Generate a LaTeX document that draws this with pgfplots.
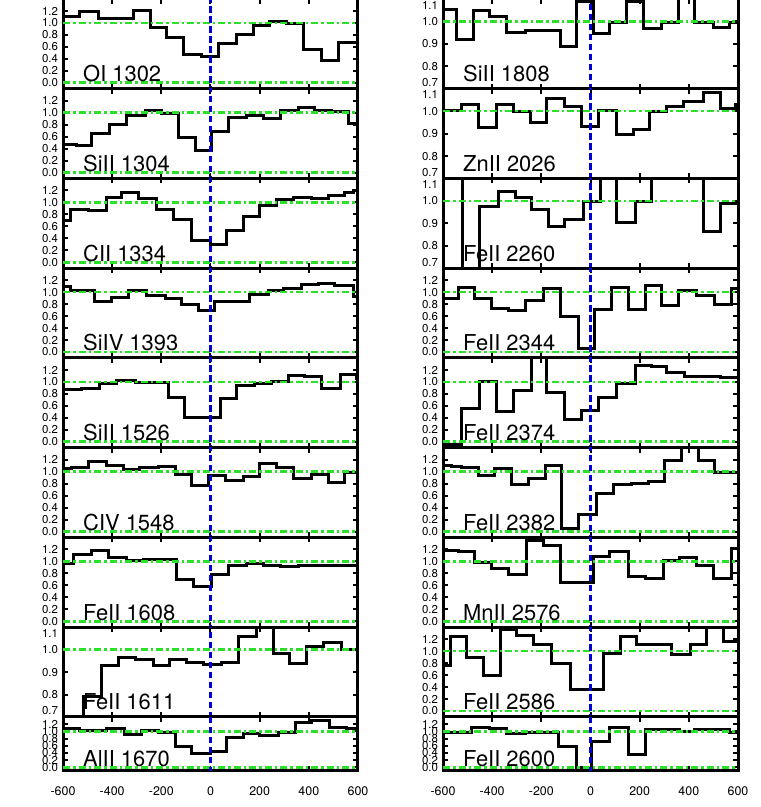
\documentclass[border=0pt]{standalone}
\usepackage{fontspec}
\setmainfont{TeX Gyre Heros}
\usepackage{pgfplots}
\pgfplotsset{compat=1.18}
\definecolor{contgreen}{RGB}{40,225,40}
\definecolor{zeroblue}{RGB}{0,0,210}

\pgfplotsset{
  panel/.style={
    scale only axis, width=295bp, height=89.75bp, anchor=north west,
    xmin=-600, xmax=600, ymin=-0.1, ymax=1.4,
    xtick={-600,-400,...,600}, xticklabels={},
    ytick={0,0.2,0.4,0.6,0.8,1.0,1.2},
    yticklabels={0.0,0.2,0.4,0.6,0.8,1.0,1.2},
    axis line style={line width=3bp},
    every tick/.style={black, line width=2bp},
    major tick length=5bp,
    tick align=inside,
    yticklabel style={font=\fontsize{11.5}{11.5}\selectfont, xshift=-1.5bp},
    xticklabel style={font=\fontsize{12.5}{12.5}\selectfont, yshift=-12bp},
  },
  short/.style={height=54bp, xticklabels={-600,-400,-200,0,200,400,600}},
  narrow/.style={ymin=0.7, ymax=1.1, ytick={0.7,0.8,0.9,1.0,1.1},
    yticklabels={{\raisebox{6bp}[\height][\depth]{0.7}},0.8,0.9,1.0,{\raisebox{-6bp}[\height][\depth]{1.1}}}},
  flux/.style={black, line width=3bp, const plot},
  cont/.style={contgreen, line width=2.6bp, dash pattern=on 7bp off 3bp on 2.5bp off 3bp},
  vzero/.style={zeroblue, line width=3bp, dash pattern=on 6.5bp off 3.5bp},
}
\tikzset{lbl/.style={anchor=base west, inner sep=0pt, font=\fontsize{22}{22}\selectfont, xshift=20bp, yshift=7bp}}

% guide lines: continuum 0 and 1, systemic velocity
\newcommand{\guides}{
  \addplot[cont] coordinates {(-600,0) (600,0)};
  \addplot[cont] coordinates {(-600,1) (600,1)};
  \addplot[vzero] coordinates {(0,-1) (0,2)};
}

\begin{document}
\begin{tikzpicture}
% ---------------- left column ----------------
\begin{axis}[panel, at={(63bp,808bp)}]
  \addplot[flux] coordinates {(-600,1.11) (-531,1.19) (-456,1.07) (-314,1.21) (-246,0.93) (-178,0.75) (-111,0.48) (-36,0.44) (32,0.65) (106,0.81) (174,0.96) (242,1.02) (310,0.99) (378,0.56) (452,0.38) (520,0.67) (600,0.67)};
  \guides
  \node[lbl] at (rel axis cs:0,0) {OI 1302};
\end{axis}

\begin{axis}[panel, at={(63bp,718.25bp)}]
  \addplot[flux] coordinates {(-600,0.47) (-544,0.45) (-483,0.66) (-409,0.81) (-341,0.95) (-266,1.03) (-199,0.98) (-131,0.58) (-63,0.37) (5,0.69) (72,0.92) (147,0.95) (215,0.90) (283,1.03) (357,1.08) (425,1.03) (493,1.02) (561,0.82) (600,0.82)};
  \guides
  \node[lbl] at (rel axis cs:0,0) {SiII 1304};
\end{axis}

\begin{axis}[panel, at={(63bp,628.5bp)}]
  \addplot[flux] coordinates {(-600,0.69) (-571,0.89) (-497,0.86) (-425,1.09) (-361,1.16) (-294,1.07) (-219,0.88) (-151,0.72) (-77,0.36) (-2,0.30) (66,0.53) (133,0.77) (201,0.95) (269,1.05) (337,1.08) (411,1.06) (479,1.11) (547,1.16) (581,1.20) (600,1.20)};
  \guides
  \node[lbl] at (rel axis cs:0,0) {CII 1334};
\end{axis}

\begin{axis}[panel, at={(63bp,538.75bp)}]
  \addplot[flux] coordinates {(-600,1.10) (-571,1.02) (-470,0.85) (-402,0.91) (-334,1.02) (-260,0.95) (-185,0.90) (-117,0.79) (-50,0.70) (18,0.85) (93,0.85) (160,0.96) (235,1.02) (296,1.06) (371,1.13) (439,1.15) (506,1.11) (581,0.93) (600,0.93)};
  \guides
  \node[lbl] at (rel axis cs:0,0) {SiIV 1393};
\end{axis}

\begin{axis}[panel, at={(63bp,449bp)}]
  \addplot[flux] coordinates {(-600,0.87) (-524,0.89) (-450,0.98) (-382,1.02) (-307,0.99) (-172,0.74) (-104,0.40) (39,0.72) (106,0.94) (181,0.98) (249,1.01) (316,1.11) (384,1.09) (452,0.89) (527,1.13) (595,1.05) (600,1.05)};
  \guides
  \node[lbl] at (rel axis cs:0,0) {SiII 1526};
\end{axis}

\begin{axis}[panel, at={(63bp,359.25bp)}]
  \addplot[flux] coordinates {(-600,1.06) (-565,1.07) (-497,1.17) (-422,1.10) (-355,1.04) (-287,1.07) (-212,1.08) (-144,0.96) (-77,0.77) (-9,0.94) (59,0.85) (133,0.92) (201,1.13) (269,1.07) (337,0.89) (411,0.96) (479,0.82) (547,0.99) (600,0.99)};
  \guides
  \node[lbl] at (rel axis cs:0,0) {CIV 1548};
\end{axis}

\begin{axis}[panel, at={(63bp,269.5bp)}]
  \addplot[flux] coordinates {(-600,0.97) (-558,1.11) (-483,1.18) (-416,1.07) (-341,1.02) (-273,1.04) (-138,0.69) (-70,0.58) (5,0.78) (72,0.93) (147,0.96) (215,0.94) (283,0.92) (357,0.94) (425,0.93) (600,0.93)};
  \guides
  \node[lbl] at (rel axis cs:0,0) {FeII 1608};
\end{axis}

\begin{axis}[panel, narrow, at={(63bp,179.75bp)}]
  \addplot[flux] coordinates {(-600,0.6) (-517,0.79) (-443,0.93) (-375,0.966) (-307,0.956) (-233,0.93) (-165,0.956) (-97,0.944) (-29,0.934) (45,0.944) (113,1.06) (188,1.12) (256,0.985) (323,0.937) (391,1.013) (459,1.03) (534,1.003) (600,1.003)};
  \guides
  \node[lbl] at (rel axis cs:0,0) {FeII 1611};
\end{axis}

\begin{axis}[panel, short, at={(63bp,90bp)}]
  \addplot[flux] coordinates {(-600,1.07) (-531,1.03) (-422,1.07) (-348,0.91) (-280,1.03) (-212,0.96) (-144,0.57) (-77,0.39) (-2,0.45) (66,0.83) (133,0.94) (201,0.89) (276,0.98) (344,1.26) (411,1.30) (486,1.12) (554,1.07) (600,1.07)};
  \guides
  \node[lbl, yshift=-2.5bp] at (rel axis cs:0,0) {AlII 1670};
\end{axis}

% ---------------- right column ----------------
\begin{axis}[panel, narrow, at={(443bp,808bp)}]
  \addplot[flux] coordinates {(-600,1.054) (-544,0.92) (-477,1.05) (-409,1.02) (-341,0.95) (-266,0.96) (-124,0.89) (-56,1.09) (11,0.944) (79,0.996) (147,1.09) (215,0.97) (289,0.996) (357,1.13) (425,0.993) (500,0.974) (567,0.996) (600,0.996)};
  \guides
  \node[lbl] at (rel axis cs:0,0) {SiII 1808};
\end{axis}

\begin{axis}[panel, narrow, at={(443bp,718.25bp)}]
  \addplot[flux] coordinates {(-600,1.004) (-524,1.03) (-456,0.927) (-382,1.03) (-314,0.997) (-246,0.948) (-178,1.057) (-104,1.022) (-36,0.93) (32,1.004) (106,0.896) (174,0.918) (242,0.997) (310,1.022) (378,1.042) (459,1.082) (527,1.012) (588,1.03) (600,1.03)};
  \guides
  \node[lbl] at (rel axis cs:0,0) {ZnII 2026};
\end{axis}

\begin{axis}[panel, narrow, at={(443bp,628.5bp)}]
  \addplot[flux] coordinates {(-600,1.2) (-520,0.6) (-452,0.973) (-375,1.04) (-307,1.014) (-239,0.964) (-172,0.885) (-104,0.918) (-29,0.998) (39,1.2) (106,0.903) (181,0.998) (249,1.2) (459,0.862) (527,0.988) (600,0.988)};
  \guides
  \node[lbl] at (rel axis cs:0,0) {FeII 2260};
\end{axis}

\begin{axis}[panel, at={(443bp,538.75bp)}]
  \addplot[flux] coordinates {(-600,0.896) (-538,1.07) (-470,0.896) (-402,0.73) (-334,0.70) (-266,0.86) (-192,1.055) (-124,0.59) (-50,0.066) (18,0.714) (86,1.08) (154,0.714) (222,1.115) (289,0.78) (357,1.033) (432,0.945) (506,0.80) (574,1.055) (600,1.055)};
  \guides
  \node[lbl] at (rel axis cs:0,0) {FeII 2344};
\end{axis}

\begin{axis}[panel, at={(443bp,449bp)}]
  \addplot[flux] coordinates {(-600,-0.05) (-524,0.55) (-450,1.01) (-382,0.51) (-314,0.86) (-239,1.5) (-178,0.82) (-104,0.37) (-36,0.53) (32,0.74) (106,0.97) (181,1.28) (249,1.26) (310,1.16) (384,1.09) (527,1.07) (600,1.07)};
  \guides
  \node[lbl] at (rel axis cs:0,0) {FeII 2374};
\end{axis}

\begin{axis}[panel, at={(443bp,359.25bp)}]
  \addplot[flux] coordinates {(-600,1.10) (-565,1.08) (-524,1.07) (-456,0.93) (-389,1.06) (-321,0.79) (-253,0.89) (-185,1.10) (-117,0.05) (-50,0.29) (25,0.64) (93,0.78) (167,0.81) (235,0.84) (303,1.18) (371,1.5) (439,1.18) (506,0.99) (600,0.99)};
  \guides
  \node[lbl] at (rel axis cs:0,0) {FeII 2382};
\end{axis}

\begin{axis}[panel, at={(443bp,269.5bp)}]
  \addplot[flux] coordinates {(-600,1.19) (-538,1.17) (-470,0.98) (-402,0.88) (-334,0.78) (-260,1.35) (-192,1.26) (-124,0.65) (11,1.08) (79,1.17) (154,0.75) (222,0.71) (296,1.02) (364,1.06) (432,0.93) (500,0.72) (574,1.22) (600,1.22)};
  \guides
  \node[lbl] at (rel axis cs:0,0) {MnII 2576};
\end{axis}

\begin{axis}[panel, at={(443bp,179.75bp)}]
  \addplot[flux] coordinates {(-600,0.76) (-571,1.24) (-504,0.89) (-436,0.60) (-368,1.37) (-300,1.27) (-233,1.12) (-158,0.80) (-83,0.36) (52,0.96) (120,1.24) (188,1.12) (330,0.95) (405,1.12) (472,1.5) (540,1.16) (600,1.16)};
  \guides
  \node[lbl] at (rel axis cs:0,0) {FeII 2586};
\end{axis}

\begin{axis}[panel, short, at={(443bp,90bp)}]
  \addplot[flux] coordinates {(-600,0.98) (-483,1.12) (-409,1.09) (-341,0.94) (-266,0.96) (-199,0.98) (-131,0.57) (-56,0.0) (5,0.71) (79,1.10) (154,0.36) (222,1.06) (296,1.05) (364,1.0) (425,1.05) (567,0.98) (600,0.98)};
  \guides
  \node[lbl, yshift=-2.5bp] at (rel axis cs:0,0) {FeII 2600};
\end{axis}

\pgfresetboundingbox
\path[use as bounding box] (0,0) rectangle (761bp,807bp);
\end{tikzpicture}
\end{document}
